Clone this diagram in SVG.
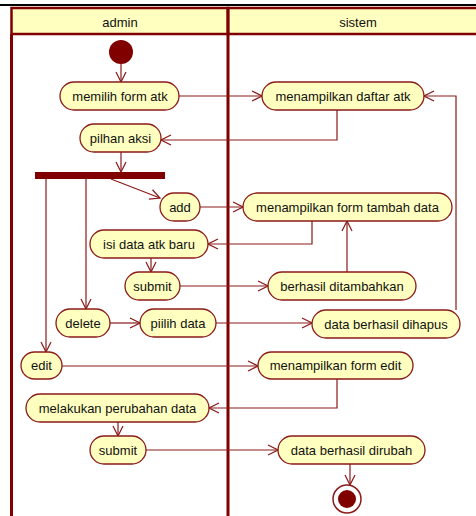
<svg xmlns="http://www.w3.org/2000/svg" width="476" height="516" viewBox="0 0 476 516">
<style>
.lane{fill:#FFFFC0;stroke:#800000;stroke-width:2.5}
.lline{stroke:#800000;stroke-width:3;fill:none}
.node rect{fill:#FFFFC0;stroke:#8B1A1A;stroke-width:1.3}
text{font-family:"Liberation Sans",Arial,sans-serif;font-size:13px;fill:#111;text-anchor:middle}
.c{stroke:#8B1A1A;stroke-width:1.2;fill:none;marker-end:url(#ah)}
</style>
<defs>
<marker id="ah" markerUnits="userSpaceOnUse" markerWidth="12" markerHeight="12" viewBox="0 0 12 12" refX="11" refY="6" orient="auto">
<path d="M1,1 L11,6 L1,11" fill="none" stroke="#8B1A1A" stroke-width="1.2"/>
</marker>
</defs>
<rect width="476" height="516" fill="#fff"/>
<line x1="0" y1="5" x2="476" y2="5" stroke="#000" stroke-width="2"/>
<g id="lanes">
<rect class="lane" x="11.5" y="8" width="216.5" height="26"/>
<rect class="lane" x="228" y="8" width="262" height="26"/>
<line class="lline" x1="11.5" y1="34" x2="11.5" y2="516"/>
<line class="lline" x1="228" y1="8" x2="228" y2="516" stroke-width="3.5"/>
<text x="120" y="27">admin</text>
<text x="358" y="27">sistem</text>
</g>
<g id="connectors">
<path class="c" d="M121,64 L121,82"/>
<path class="c" d="M179,96 L262,96"/>
<path class="c" d="M337,110 L337,140 L161,140"/>
<path class="c" d="M121,152 L121,172"/>
<path class="c" d="M111,179 L160,198"/>
<path class="c" d="M200,207 L243,207"/>
<path class="c" d="M312,221 L312,244 L208,244"/>
<path class="c" d="M151,258 L151,272"/>
<path class="c" d="M180,286 L268,286"/>
<path class="c" d="M347,272 L347,221"/>
<path class="c" d="M86,179 L86,309"/>
<path class="c" d="M110,323 L140,323"/>
<path class="c" d="M216,323 L312,323"/>
<path class="c" d="M456,310 L456,96 L424,96"/>
<path class="c" d="M46,179 L46,352"/>
<path class="c" d="M62,366 L258,366"/>
<path class="c" d="M337,379 L337,408 L209,408"/>
<path class="c" d="M118,422 L118,436"/>
<path class="c" d="M146,450 L278,450"/>
<path class="c" d="M350,464 L350,485"/>
</g>
<g id="start"><circle cx="121" cy="52" r="12" fill="#800000"/></g>
<g id="fork"><rect x="35" y="172" width="130" height="7" fill="#800000"/></g>
<g id="end"><circle cx="347" cy="499" r="14" fill="#fff" stroke="#8B1A1A" stroke-width="1.5"/><circle cx="347" cy="499" r="9" fill="#800000"/></g>
<g id="n1" class="node"><rect x="60" y="82" width="119" height="28" rx="14"/><text x="120" y="100.5">memilih form atk</text></g>
<g id="n2" class="node"><rect x="80" y="124" width="81" height="28" rx="14"/><text x="120.5" y="142.5">pilhan aksi</text></g>
<g id="n3" class="node"><rect x="262" y="82" width="162" height="28" rx="14"/><text x="343" y="100.5">menampilkan daftar atk</text></g>
<g id="n4" class="node"><rect x="160" y="193" width="40" height="28" rx="14"/><text x="180" y="211.5">add</text></g>
<g id="n5" class="node"><rect x="243" y="193" width="209" height="28" rx="14"/><text x="347.5" y="211.5">menampilkan form tambah data</text></g>
<g id="n6" class="node"><rect x="90" y="230" width="118" height="28" rx="14"/><text x="149" y="248.5">isi data atk baru</text></g>
<g id="n7" class="node"><rect x="125" y="272" width="55" height="28" rx="14"/><text x="152.5" y="290.5">submit</text></g>
<g id="n8" class="node"><rect x="268" y="272" width="148" height="28" rx="14"/><text x="342" y="290.5">berhasil ditambahkan</text></g>
<g id="n9" class="node"><rect x="56" y="309" width="54" height="28" rx="14"/><text x="83" y="327.5">delete</text></g>
<g id="n10" class="node"><rect x="140" y="309" width="76" height="28" rx="14"/><text x="178" y="327.5">piilih data</text></g>
<g id="n11" class="node"><rect x="312" y="310" width="148" height="28" rx="14"/><text x="386" y="328.5">data berhasil dihapus</text></g>
<g id="n12" class="node"><rect x="21" y="352" width="41" height="27" rx="13.5"/><text x="41.5" y="370">edit</text></g>
<g id="n13" class="node"><rect x="258" y="352" width="155" height="27" rx="13.5"/><text x="335.5" y="370">menampilkan form edit</text></g>
<g id="n14" class="node"><rect x="26" y="394" width="183" height="28" rx="14"/><text x="117.5" y="412.5">melakukan perubahan data</text></g>
<g id="n15" class="node"><rect x="90" y="436" width="56" height="28" rx="14"/><text x="118" y="454.5">submit</text></g>
<g id="n16" class="node"><rect x="278" y="436" width="147" height="28" rx="14"/><text x="351.5" y="454.5">data berhasil dirubah</text></g>
</svg>
